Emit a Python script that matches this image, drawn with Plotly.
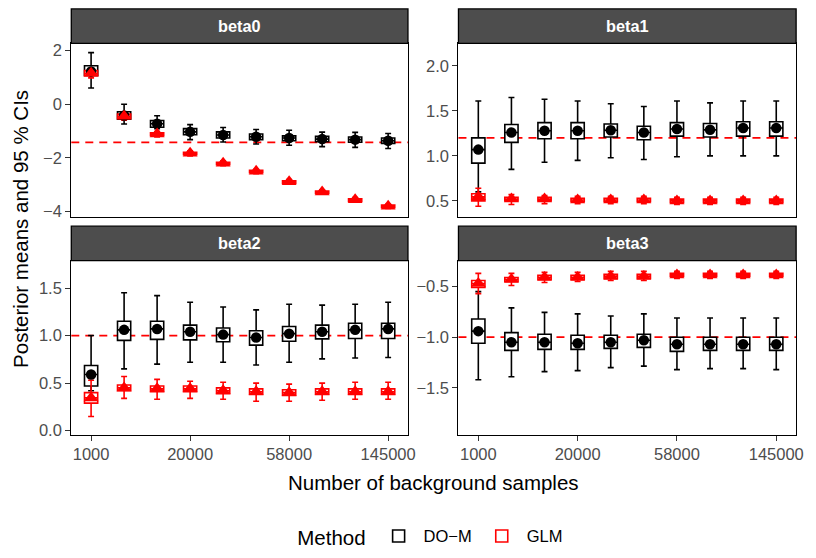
import plotly.graph_objects as go

# ---------------- data ----------------
categories = ["1000", "7000", "13000", "20000", "31000", "44000", "58000", "80000", "110000", "145000"]
shown_ticks = ["1000", "20000", "58000", "145000"]
params = ["beta0", "beta1", "beta2", "beta3"]
true_values = [-1.42, 1.2, 1.0, -1.0]

# DO-M (black)
dom_mean = {
    "beta0": [1.22, -0.42, -0.73, -1.03, -1.15, -1.21, -1.26, -1.30, -1.32, -1.36],
    "beta1": [1.07, 1.26, 1.28, 1.28, 1.285, 1.26, 1.30, 1.29, 1.31, 1.31],
    "beta2": [0.59, 1.06, 1.07, 1.04, 1.01, 0.98, 1.02, 1.04, 1.06, 1.07],
    "beta3": [-0.94, -1.05, -1.05, -1.06, -1.05, -1.03, -1.07, -1.07, -1.07, -1.07],
}
dom_lower = {
    "beta0": [0.60, -0.74, -0.91, -1.32, -1.41, -1.48, -1.53, -1.58, -1.61, -1.65],
    "beta1": [0.60, 0.85, 0.93, 0.95, 0.98, 0.96, 0.99, 1.00, 1.00, 1.00],
    "beta2": [0.42, 0.65, 0.70, 0.72, 0.72, 0.69, 0.72, 0.755, 0.765, 0.77],
    "beta3": [-1.42, -1.39, -1.34, -1.33, -1.30, -1.285, -1.32, -1.31, -1.31, -1.32],
}
dom_upper = {
    "beta0": [1.92, 0.0, -0.43, -0.76, -0.87, -0.94, -0.97, -1.04, -1.05, -1.09],
    "beta1": [1.61, 1.65, 1.63, 1.61, 1.58, 1.55, 1.61, 1.59, 1.61, 1.61],
    "beta2": [1.00, 1.45, 1.42, 1.35, 1.30, 1.27, 1.33, 1.32, 1.33, 1.35],
    "beta3": [-0.55, -0.71, -0.755, -0.77, -0.79, -0.77, -0.81, -0.81, -0.81, -0.81],
}
dom_q1 = {
    "beta0": [1.07, -0.56, -0.86, -1.14, -1.26, -1.32, -1.36, -1.40, -1.42, -1.46],
    "beta1": [0.92, 1.15, 1.19, 1.19, 1.21, 1.18, 1.22, 1.21, 1.22, 1.22],
    "beta2": [0.47, 0.95, 0.96, 0.955, 0.935, 0.90, 0.94, 0.965, 0.97, 0.97],
    "beta3": [-1.06, -1.13, -1.12, -1.12, -1.11, -1.10, -1.14, -1.13, -1.13, -1.13],
}
dom_q3 = {
    "beta0": [1.43, -0.28, -0.61, -0.91, -1.03, -1.11, -1.18, -1.20, -1.22, -1.26],
    "beta1": [1.20, 1.35, 1.37, 1.37, 1.355, 1.33, 1.37, 1.36, 1.38, 1.38],
    "beta2": [0.686, 1.15, 1.15, 1.11, 1.08, 1.05, 1.095, 1.11, 1.13, 1.13],
    "beta3": [-0.82, -0.955, -0.97, -0.98, -0.98, -0.97, -1.00, -1.00, -1.00, -1.00],
}

# GLM (red)
glm_mean = {
    "beta0": [1.15, -0.45, -1.11, -1.83, -2.20, -2.50, -2.89, -3.27, -3.56, -3.80],
    "beta1": [0.545, 0.52, 0.52, 0.51, 0.51, 0.51, 0.50, 0.50, 0.50, 0.50],
    "beta2": [0.345, 0.45, 0.44, 0.44, 0.42, 0.41, 0.40, 0.41, 0.41, 0.41],
    "beta3": [-0.47, -0.43, -0.41, -0.41, -0.40, -0.40, -0.385, -0.385, -0.385, -0.385],
}
glm_lower = {
    "beta0": [0.98, -0.60, -1.22, -1.93, -2.29, -2.59, -2.97, -3.35, -3.64, -3.88],
    "beta1": [0.44, 0.46, 0.47, 0.47, 0.47, 0.47, 0.46, 0.46, 0.46, 0.46],
    "beta2": [0.15, 0.34, 0.33, 0.34, 0.33, 0.31, 0.31, 0.32, 0.33, 0.33],
    "beta3": [-0.57, -0.49, -0.46, -0.45, -0.44, -0.44, -0.42, -0.42, -0.42, -0.42],
}
glm_q1 = {
    "beta0": [1.06, -0.53, -1.17, -1.88, -2.25, -2.55, -2.94, -3.32, -3.61, -3.85],
    "beta1": [0.50, 0.50, 0.50, 0.49, 0.49, 0.49, 0.48, 0.48, 0.48, 0.48],
    "beta2": [0.29, 0.42, 0.41, 0.41, 0.39, 0.38, 0.37, 0.38, 0.38, 0.38],
    "beta3": [-0.51, -0.45, -0.43, -0.43, -0.42, -0.42, -0.40, -0.40, -0.40, -0.40],
}
glm_q3 = {
    "beta0": [1.25, -0.37, -1.07, -1.79, -2.16, -2.46, -2.85, -3.23, -3.52, -3.76],
    "beta1": [0.58, 0.54, 0.54, 0.53, 0.53, 0.53, 0.52, 0.52, 0.52, 0.52],
    "beta2": [0.40, 0.48, 0.47, 0.47, 0.45, 0.44, 0.43, 0.44, 0.44, 0.44],
    "beta3": [-0.44, -0.41, -0.39, -0.39, -0.38, -0.38, -0.37, -0.37, -0.37, -0.37],
}
glm_upper = {
    "beta0": [1.32, -0.30, -1.02, -1.74, -2.11, -2.42, -2.81, -3.19, -3.48, -3.73],
    "beta1": [0.64, 0.57, 0.56, 0.55, 0.55, 0.55, 0.54, 0.54, 0.54, 0.54],
    "beta2": [0.53, 0.57, 0.54, 0.52, 0.51, 0.50, 0.49, 0.50, 0.51, 0.51],
    "beta3": [-0.37, -0.37, -0.36, -0.36, -0.35, -0.35, -0.35, -0.35, -0.35, -0.35],
}

y_ranges = [[-4.21, 2.26], [0.318, 2.25], [-0.04, 1.787], [-1.96, -0.245]]
y_ticks = [[-4, -2, 0, 2], [0.5, 1.0, 1.5, 2.0], [0.0, 0.5, 1.0, 1.5], [-1.5, -1.0, -0.5]]
y_fmt = ["d", ".1f", ".1f", ".1f"]

# ---------------- layout geometry (px) ----------------
W, H = 816, 558
FONT = "Liberation Sans, Arial, sans-serif"
col_x = [(72, 412), (463, 804)]
row_y = [(42, 218), (262, 438)]   # plot area
strip_h = 35

def fx(px):
    return px / W

def fy(py):
    return (H - py) / H

fig = go.Figure()
layout = dict(
    width=W, height=H,
    margin=dict(l=0, r=0, t=0, b=0),
    paper_bgcolor="white", plot_bgcolor="white",
    boxmode="overlay",
    font=dict(family=FONT, color="black"),
    showlegend=True,
    shapes=[], annotations=[],
)

for i, p in enumerate(params):
    r, c = divmod(i, 2)
    xa = "x" if i == 0 else f"x{i+1}"
    ya = "y" if i == 0 else f"y{i+1}"
    xkey = "xaxis" if i == 0 else f"xaxis{i+1}"
    ykey = "yaxis" if i == 0 else f"yaxis{i+1}"
    x0, x1 = col_x[c]
    y0, y1 = row_y[r]
    bottom = (r == 1)

    layout[xkey] = dict(
        domain=[fx(x0), fx(x1)], anchor=ya,
        type="category", categoryorder="array", categoryarray=categories,
        range=[-0.6, 9.6],
        tickmode="array", tickvals=shown_ticks if bottom else [],
        ticktext=shown_ticks if bottom else [],
        showticklabels=bottom,
        ticks="outside" if bottom else "", ticklen=5, tickwidth=1, tickcolor="#333333",
        tickfont=dict(size=16.5, color="#4D4D4D", family=FONT),
        showgrid=False, zeroline=False,
        showline=True, mirror=True, linecolor="black", linewidth=1.3,
    )
    layout[ykey] = dict(
        domain=[fy(y1), fy(y0)], anchor=xa,
        range=y_ranges[i], tickmode="array", tickvals=y_ticks[i],
        tickformat=y_fmt[i],
        ticks="outside", ticklen=5, tickwidth=1, tickcolor="#333333",
        tickfont=dict(size=16.5, color="#4D4D4D", family=FONT),
        showgrid=False, zeroline=False,
        showline=True, mirror=True, linecolor="black", linewidth=1.3,
    )

    # true value reference line
    layout["shapes"].append(dict(
        type="line", xref=f"{xa} domain", yref=ya, x0=0, x1=1,
        y0=true_values[i], y1=true_values[i], layer="below",
        line=dict(color="#FF0000", width=1.8, dash="8px,6px"),
    ))
    # strip
    layout["shapes"].append(dict(
        type="rect", xref="paper", yref="paper",
        x0=fx(x0), x1=fx(x1), y0=fy(y0), y1=fy(y0 - strip_h),
        fillcolor="#4D4D4D", line=dict(color="black", width=1.3), layer="above",
    ))
    layout["annotations"].append(dict(
        text=f"<b>{p}</b>", xref="paper", yref="paper",
        x=fx((x0 + x1) / 2), y=fy(y0 - strip_h / 2), showarrow=False,
        xanchor="center", yanchor="middle",
        font=dict(size=16.3, color="white", family=FONT),
    ))

    first = (i == 0)
    # DO-M box
    fig.add_trace(go.Box(
        x=categories, q1=dom_q1[p], median=dom_mean[p], q3=dom_q3[p],
        lowerfence=dom_lower[p], upperfence=dom_upper[p],
        name="DO\u2212M", legendgroup="DOM", showlegend=first,
        fillcolor="white", line=dict(color="black", width=1.6),
        width=0.4, whiskerwidth=0.45, boxpoints=False,
        xaxis=xa, yaxis=ya, hoverinfo="skip",
    ))
    # GLM box
    fig.add_trace(go.Box(
        x=categories, q1=glm_q1[p], median=glm_mean[p], q3=glm_q3[p],
        lowerfence=glm_lower[p], upperfence=glm_upper[p],
        name="GLM", legendgroup="GLM", showlegend=first,
        fillcolor="white", line=dict(color="#FF0000", width=1.6),
        width=0.4, whiskerwidth=0.45, boxpoints=False,
        xaxis=xa, yaxis=ya, hoverinfo="skip",
    ))
    # means
    fig.add_trace(go.Scatter(
        x=categories, y=dom_mean[p], mode="markers",
        marker=dict(symbol="circle", size=10.5, color="black"),
        legendgroup="DOM", showlegend=False, xaxis=xa, yaxis=ya, hoverinfo="skip",
    ))
    fig.add_trace(go.Scatter(
        x=categories, y=glm_mean[p], mode="markers",
        marker=dict(symbol="triangle-up", size=13, color="#FF0000"),
        legendgroup="GLM", showlegend=False, xaxis=xa, yaxis=ya, hoverinfo="skip",
    ))

# axis titles
layout["annotations"].append(dict(
    text="Number of background samples", xref="paper", yref="paper",
    x=fx(438), y=fy(487), showarrow=False, xanchor="center", yanchor="middle",
    font=dict(size=20.5, color="black", family=FONT),
))
layout["annotations"].append(dict(
    text="Posterior means and 95 % CIs", xref="paper", yref="paper",
    x=fx(20), y=fy(230), showarrow=False, xanchor="center", yanchor="middle",
    textangle=-90, font=dict(size=20.5, color="black", family=FONT),
))

layout["legend"] = dict(
    orientation="h", x=fx(436), y=fy(542), xanchor="center", yanchor="middle",
    title=dict(text="Method", font=dict(size=20.5, family=FONT, color="black"), side="left"),
    font=dict(size=16.5, family=FONT, color="black"),
    bgcolor="rgba(0,0,0,0)", itemwidth=40,
)

fig.update_layout(**layout)
fig.write_html("out.html")
